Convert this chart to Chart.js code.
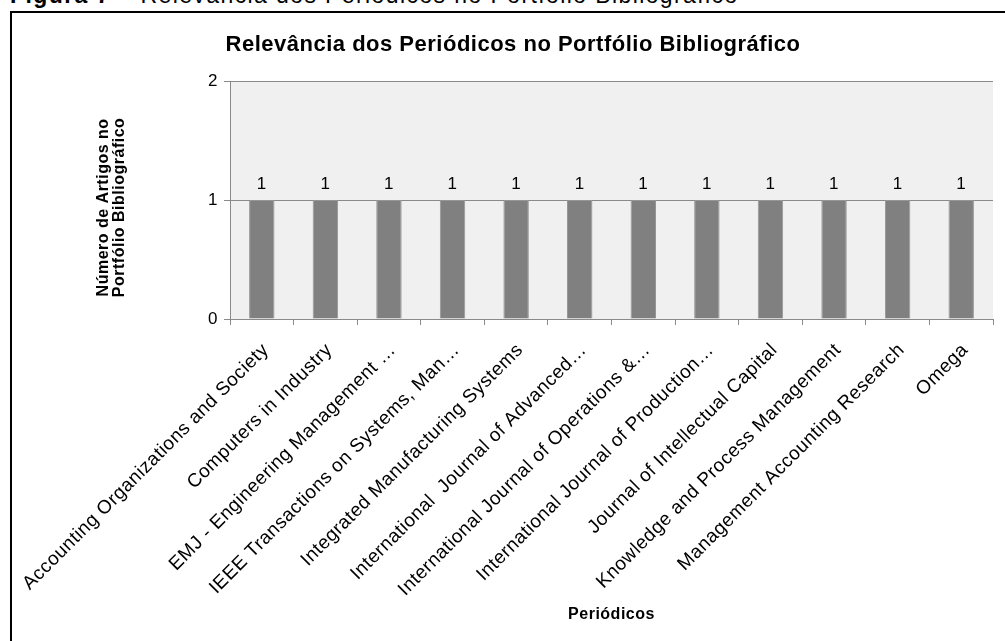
<!DOCTYPE html>
<html lang="pt">
<head>
<meta charset="utf-8">
<title>Relevância dos Periódicos no Portfólio Bibliográfico</title>
<script src="https://cdn.jsdelivr.net/npm/chart.js@4.4.1/dist/chart.umd.min.js"></script>
<style>
    html, body {
        margin: 0;
        padding: 0;
        width: 1005px;
        height: 641px;
        overflow: hidden;
        background: #fff;
        font-family: Arial, "Liberation Sans", sans-serif;
    }
    .caption {
        position: absolute;
        left: 10px;
        top: -16px;
        font-size: 23px;
        line-height: 23px;
        letter-spacing: 1.4px;
        white-space: nowrap;
        color: #000;
    }
    .frame {
        position: absolute;
        left: 10px;
        top: 11px;
        width: 1100px;
        height: 700px;
        border-left: 2px solid #000;
        border-top: 2px solid #000;
    }
    #grafico {
        position: absolute;
        left: 0;
        top: 0;
    }
</style>
</head>
<body>
<div class="caption"><b>Figura 7</b> – Relevância dos Periódicos no Portfólio Bibliográfico</div>
<div class="frame"></div>
<canvas id="grafico" width="1005" height="641"></canvas>

<script>
const titulo = 'Relevância dos Periódicos no Portfólio Bibliográfico';
const periodicos = [
    'Accounting Organizations and Society',
    'Computers in Industry',
    'EMJ - Engineering Management …',
    'IEEE Transactions on Systems, Man…',
    'Integrated Manufacturing Systems',
    'International  Journal of Advanced…',
    'International Journal of Operations &…',
    'International Journal of Production…',
    'Journal of Intellectual Capital',
    'Knowledge and Process Management',
    'Management Accounting Research',
    'Omega'
];
const artigos = [1, 1, 1, 1, 1, 1, 1, 1, 1, 1, 1, 1];
const eixoY = {min: 0, max: 2, passo: 1};
// espaços no fim empurram o título do eixo um pouco para baixo, como no original
const tituloY = ['Número de Artigos no\u00a0\u00a0\u00a0', 'Portfólio Bibliográfico\u00a0\u00a0\u00a0'];
const tituloX = 'Periódicos';

const FONTE = 'Arial, "Liberation Sans", sans-serif';
Chart.defaults.font.family = FONTE;
Chart.defaults.color = '#000';

// o texto do original tem as letras um pouco afastadas
const espacamento = {
    id: 'espacamento',
    beforeUpdate(chart) {
        chart.ctx.letterSpacing = '0.5px';
    },
    beforeDraw(chart) {
        chart.ctx.letterSpacing = '0.5px';
    }
};

const fundo = {
    id: 'fundo',
    beforeDraw(chart) {
        const {ctx, chartArea: a} = chart;
        ctx.save();
        ctx.fillStyle = '#f0f0f0';
        ctx.fillRect(a.left, a.top, a.right - a.left, a.bottom - a.top);
        ctx.restore();
    }
};

const rotulos = {
    id: 'rotulos',
    afterDatasetsDraw(chart) {
        const {ctx} = chart;
        const meta = chart.getDatasetMeta(0);
        ctx.save();
        ctx.font = '17px ' + FONTE;
        ctx.fillStyle = '#000';
        ctx.textAlign = 'center';
        ctx.textBaseline = 'bottom';
        meta.data.forEach((bar, i) => {
            ctx.fillText(String(artigos[i]), bar.x, bar.y - 7);
        });
        ctx.restore();
    }
};

const tituloGrafico = {
    id: 'tituloGrafico',
    afterDraw(chart) {
        const {ctx} = chart;
        ctx.save();
        ctx.font = 'bold 22px ' + FONTE;
        ctx.fillStyle = '#000';
        ctx.textAlign = 'center';
        ctx.textBaseline = 'middle';
        ctx.fillText(titulo, 513, 45);
        ctx.restore();
    }
};

new Chart(document.getElementById('grafico'), {
    type: 'bar',
    data: {
        labels: periodicos,
        datasets: [{
            data: artigos,
            backgroundColor: '#808080',
            borderColor: '#969696',
            borderWidth: 1,
            barPercentage: 0.4,
            categoryPercentage: 1
        }]
    },
    options: {
        responsive: false,
        devicePixelRatio: 1,
        animation: false,
        layout: {
            padding: {left: 96, right: 12, top: 81, bottom: 17}
        },
        plugins: {
            legend: {display: false},
            tooltip: {enabled: false}
        },
        scales: {
            x: {
                afterFit(scale) {
                    scale.height = 305;
                    scale.paddingLeft = 0;
                    scale.paddingRight = 0;
                },
                grid: {
                    drawOnChartArea: false,
                    drawTicks: true,
                    tickLength: 6,
                    color: '#8a8a8a'
                },
                border: {color: '#8a8a8a'},
                ticks: {
                    autoSkip: false,
                    minRotation: 45,
                    maxRotation: 45,
                    padding: 14,
                    labelOffset: 4,
                    font: {size: 19}
                },
                title: {
                    display: true,
                    text: tituloX,
                    padding: 0,
                    font: {size: 16, weight: 'bold'}
                }
            },
            y: {
                min: eixoY.min,
                max: eixoY.max,
                z: 1,
                afterFit(scale) {
                    scale.width = 134;
                },
                grid: {
                    color: '#8a8a8a',
                    tickLength: 6
                },
                border: {color: '#8a8a8a'},
                ticks: {
                    stepSize: eixoY.passo,
                    padding: 6,
                    font: {size: 17}
                },
                title: {
                    display: true,
                    text: tituloY,
                    padding: 0,
                    font: {size: 16, weight: 'bold', lineHeight: 1}
                }
            }
        }
    },
    plugins: [espacamento, fundo, rotulos, tituloGrafico]
});
</script>
</body>
</html>
